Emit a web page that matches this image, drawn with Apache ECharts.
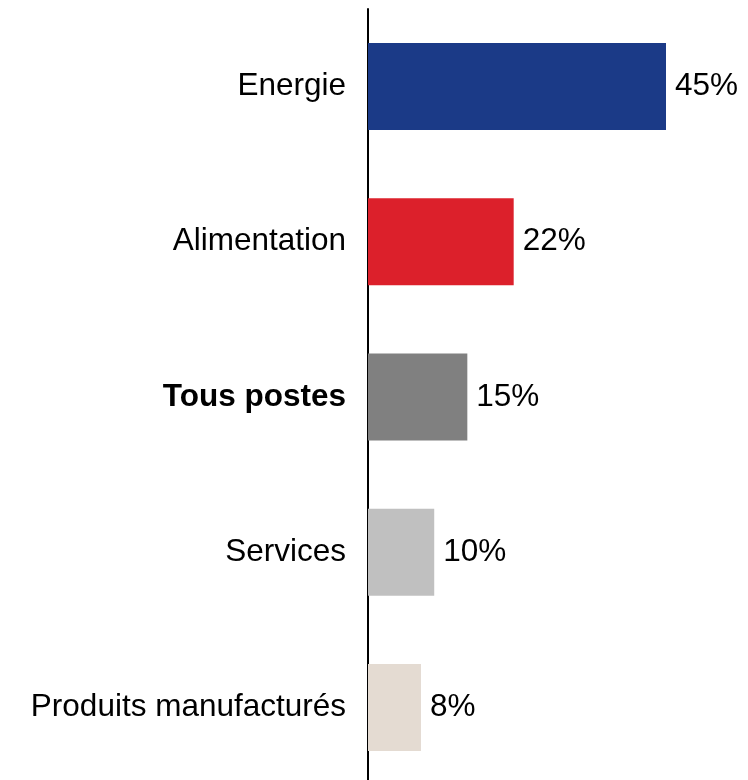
<!DOCTYPE html>
<html>
<head>
<meta charset="utf-8">
<script src="https://cdn.jsdelivr.net/npm/echarts@6/dist/echarts.min.js"></script>
<style>html,body{margin:0;padding:0;background:#fff;}#c{width:748px;height:780px;}</style>
</head>
<body>
<div id="c"></div>
<script>
const categories = ["Energie", "Alimentation", "Tous postes", "Services", "Produits manufacturés"];
const values = [45, 22, 15, 10, 8];
const colors = ["#1b3a87", "#dc202b", "#808080", "#c0c0c0", "#e4dbd2"];

const chart = echarts.init(document.getElementById('c'), null, {renderer: 'canvas'});
chart.setOption({
  animation: false,
  backgroundColor: '#ffffff',
  grid: {left: 368, top: 9, right: 82, bottom: -5, containLabel: false, outerBoundsMode: 'none'},
  xAxis: {type: 'value', min: 0, max: 45, show: false, splitLine: {show: false}},
  yAxis: {
    type: 'category', data: categories, inverse: true,
    axisLine: {show: true, lineStyle: {color: '#000', width: 2}},
    axisTick: {show: false},
    axisLabel: {
      margin: 22, fontSize: 31.5, color: '#000', fontFamily: 'Liberation Sans, Arial, sans-serif',
      formatter: function (v) { return v === 'Tous postes' ? '{b|' + v + '}' : v; },
      rich: {b: {fontWeight: 'bold', fontSize: 31.5, color: '#000', fontFamily: 'Liberation Sans, Arial, sans-serif'}}
    }
  },
  series: [{
    type: 'bar',
    barWidth: 87,
    data: values.map((v, i) => ({value: v, itemStyle: {color: colors[i]}})),
    label: {
      show: true, position: 'right', distance: 9, fontSize: 31.5, color: '#000',
      fontFamily: 'Liberation Sans, Arial, sans-serif',
      formatter: p => p.value + '%'
    }
  }]
});
</script>
</body>
</html>
